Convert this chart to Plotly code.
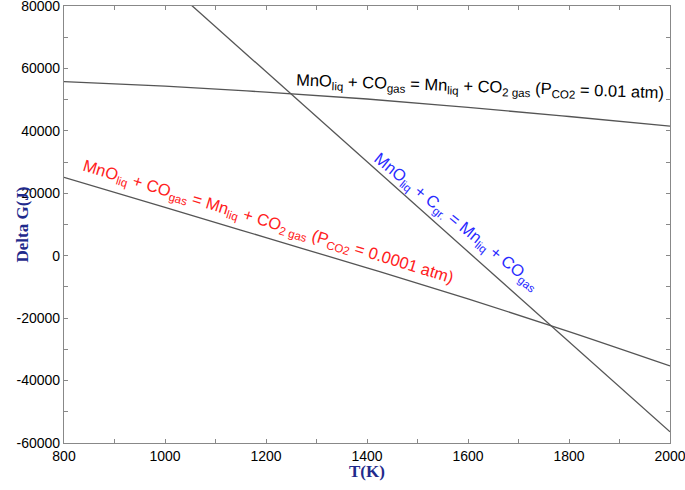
import plotly.graph_objects as go

# Data
T_upper = [800, 1000, 1200, 1400, 1600, 1800, 2000]
G_upper = [55800, 54300, 52400, 50200, 47500, 44600, 41500]   # P_CO2 = 0.01 atm

T_lower = [800, 1000, 1200, 1400, 1600, 1800, 2000]
G_lower = [25100, 15500, 5800, -3900, -13800, -24300, -35300]  # P_CO2 = 0.0001 atm

T_carbon = [1000, 2000]
G_carbon = [87800, -56400]                                     # MnO + C

x_ticks = [800, 1000, 1200, 1400, 1600, 1800, 2000]
y_ticks = [-60000, -40000, -20000, 0, 20000, 40000, 60000, 80000]

line_style = dict(color="#555555", width=1.3)

fig = go.Figure()
fig.add_trace(go.Scatter(x=T_upper, y=G_upper, mode="lines", line=line_style, line_shape="spline"))
fig.add_trace(go.Scatter(x=T_lower, y=G_lower, mode="lines", line=line_style, line_shape="spline"))
fig.add_trace(go.Scatter(x=T_carbon, y=G_carbon, mode="lines", line=line_style))

label_font = dict(family="Liberation Sans, Arial", size=16.5)

fig.add_annotation(
    x=1624, y=54000, xref="x", yref="y",
    text="MnO<sub>liq</sub> + CO<sub>gas</sub> = Mn<sub>liq</sub> + CO<sub>2 gas</sub> (P<sub>CO2</sub> = 0.01 atm)",
    showarrow=False, textangle=2, font=dict(color="black", **label_font),
)
fig.add_annotation(
    x=1204, y=10800, xref="x", yref="y",
    text="MnO<sub>liq</sub> + CO<sub>gas</sub> = Mn<sub>liq</sub> + CO<sub>2 gas</sub> (P<sub>CO2</sub> = 0.0001 atm)",
    showarrow=False, textangle=17, font=dict(color="#ff2020", **label_font),
)
fig.add_annotation(
    x=1578, y=10800, xref="x", yref="y",
    text="MnO<sub>liq</sub> + C<sub>gr.</sub> = Mn<sub>liq</sub> + CO<sub>gas</sub>",
    showarrow=False, textangle=39, font=dict(color="#2a2aff", **label_font),
)

title_font = dict(family="Liberation Serif, Times New Roman", size=17, color="#1f2a8c")
fig.add_annotation(x=0.5, y=0, xref="x domain", yref="y domain", yshift=-28,
                   xanchor="center", yanchor="middle",
                   text="<b>T(K)</b>", showarrow=False, font=title_font)
fig.add_annotation(x=0, y=0.5, xref="x domain", yref="y domain", xshift=-42,
                   xanchor="center", yanchor="middle",
                   text="<b>Delta G(J)</b>", showarrow=False, textangle=-90, font=title_font)

axis_common = dict(
    showgrid=False, zeroline=False, showline=True, linecolor="#888888", linewidth=1.2,
    ticks="inside", ticklen=4, tickcolor="#888888", mirror="allticks", automargin=False,
    ticklabeloverflow="allow",
    tickfont=dict(family="Liberation Sans, Arial", size=14, color="black"),
)

fig.update_xaxes(
    range=[800, 2000], tickvals=x_ticks, ticktext=[str(v) for v in x_ticks],
    minor=dict(ticks="inside", dtick=100, ticklen=4, tickcolor="#888888", tick0=800),
    **axis_common,
)
fig.update_yaxes(
    range=[-60000, 80000], tickvals=y_ticks, ticktext=[str(v) for v in y_ticks],
    minor=dict(ticks="inside", dtick=10000, ticklen=4, tickcolor="#888888", tick0=0),
    **axis_common,
)

fig.update_layout(
    width=685, height=490, showlegend=False,
    plot_bgcolor="white", paper_bgcolor="white",
    margin=dict(l=64, r=15, t=6, b=47),
)

fig.write_html("out.html", config={"displayModeBar": False},
               post_script="document.body.style.margin='0';")
